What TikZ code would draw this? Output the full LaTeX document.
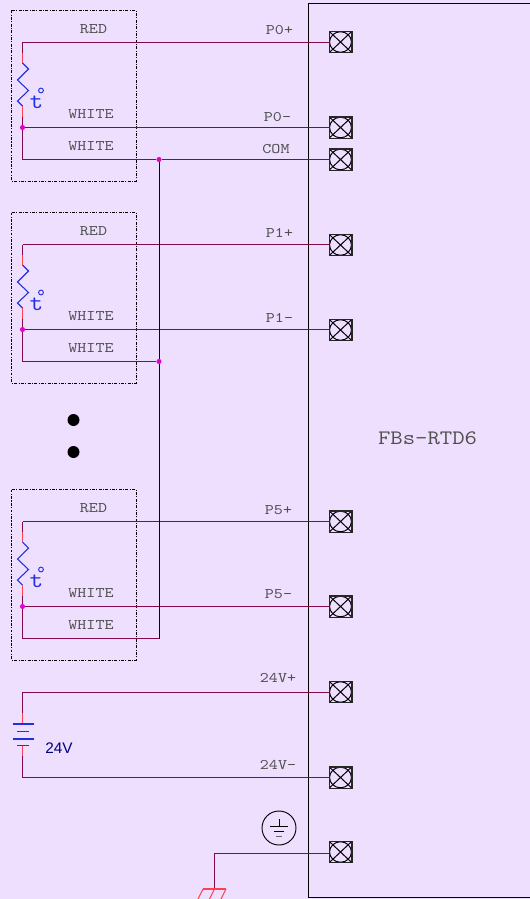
\documentclass[tikz,border=0pt]{standalone}
\usepackage{fontspec}
\setmainfont{Liberation Sans}
\newfontfamily\monof[FakeStretch=1.17]{Latin Modern Mono}
\definecolor{bg}{HTML}{EEDFFF}
\definecolor{wire}{HTML}{800A4A}
\definecolor{redw}{HTML}{FF4050}
\definecolor{bluew}{HTML}{2030E0}
\definecolor{junc}{HTML}{E000D0}
\definecolor{txt}{HTML}{505050}
\tikzset{
 wirel/.style={draw=wire,line width=0.75pt},
 redl/.style={draw=redw,line width=0.8pt},
 bluel/.style={draw=bluew,line width=0.8pt},
 plate/.style={draw=bluew,line width=0.8pt},
 sensorbox/.style={draw=black,line width=0.6pt,dash pattern=on 2.2pt off 1pt on 0.8pt off 1pt},
 lab/.style={inner sep=0pt,text=txt,font=\monof\fontsize{11pt}{11pt}\selectfont},
 term/.style={draw=black!85,line width=1pt,minimum width=17pt,minimum height=16pt,inner sep=0pt,
  path picture={\draw[black,line width=0.75pt] (path picture bounding box.south west)--(path picture bounding box.north east)
   (path picture bounding box.north west)--(path picture bounding box.south east);
   \draw[black,line width=0.75pt] (path picture bounding box.center) ellipse (8.2pt and 7.7pt);}},
 jdot/.style={circle,fill=junc,inner sep=0pt,minimum size=3.8pt},
}
\begin{document}
\begin{tikzpicture}[x=0.75pt,y=-0.75pt]
\useasboundingbox (0,0) rectangle (530,899);
\fill[bg] (0,0) rectangle (530,899);
% module
\draw[black,line width=0.75pt] (530,4) -- (308.5,4) -- (308.5,897) -- (530,897);
\node[inner sep=0pt,text=txt,font=\monof\fontsize{15.4pt}{15.4pt}\selectfont] (name) at (427.5,438) {FBs-RTD6};
% terminals
\foreach \n/\y in {t0/42,t1/127.5,tc/159.5,t2/245,t3/330,t4/521.5,t5/606.5,t6/692,t7/777.5,t8/852}
 \node[term] (\n) at (340.5,\y) {};
% sensor boxes and their contents
\foreach \s/\o/\a/\b in {A/0/t0/t1,B/202/t2/t3,C/479/t4/t5}{
 \begin{scope}[shift={(0,\o)}]
 \draw[sensorbox] (11.5,10.5) rectangle (136,181);
 \coordinate (\s r) at (22.5,42.5);
 \coordinate (\s r1) at (22.5,53);
 \coordinate (\s r2) at (22.5,63);
 \coordinate (\s w0) at (22.5,106);
 \coordinate (\s w1) at (22.5,117);
 \node[jdot] (\s j) at (22.5,127.5) {};
 \coordinate (\s c) at (22.5,159.5);
 \draw[wirel] (\s r1) -- (\s r);
 \draw[redl] (\s r1) -- (\s r2);
 \draw[bluel,line join=miter] (\s r2) -- ++(6,6) -- ++(-11,11) -- ++(11,10.5) -- ++(-11,10.5) -- (\s w0);
 \draw[redl] (\s w0) -- (\s w1);
 \draw[wirel] (\s w1) -- (\s j) -- (\s c);
 \node[inner sep=0pt,text=bluew,font=\monof\fontsize{17pt}{17pt}\selectfont] (\s t) at (36.5,102) {t};
 \draw[bluew,line width=0.7pt] (41,90.5) circle (2.4);
 \node[lab] (\s lr) at (93.5,29) {RED};
 \node[lab] (\s lw) at (91,114) {WHITE};
 \node[lab] (\s lx) at (91,146) {WHITE};
 \end{scope}
 \draw[wirel] (\s r) -- (\s r -| \a.west);
 \draw[wirel] (\s j) -- (\s j -| \b.west);
}
% common bus
\node[jdot] (j0) at (159,159.5) {};
\node[jdot] (j1) at (159,361.5) {};
\coordinate (j2) at (159,638.5);
\draw[wirel] (Ac) -- (j0) -- (tc);
\draw[wirel] (Bc) -- (j1);
\draw[wirel] (Cc) -- (j2);
\draw[line width=0.75pt,draw=black!85!wire] (j0) -- (j1) -- (j2);
% terminal labels
\node[lab] (p0p) at (279.5,30.5) {P0+};
\node[lab] (p0m) at (277.5,117) {P0-};
\node[lab] (com) at (276,149.5) {COM};
\node[lab] (p1p) at (279.5,232.5) {P1+};
\node[lab] (p1m) at (279.5,318) {P1-};
\node[lab] (p5p) at (278.5,510.5) {P5+};
\node[lab] (p5m) at (278.5,594) {P5-};
\node[lab] (vp) at (278,677.5) {24V+};
\node[lab] (vm) at (278,765) {24V-};
% continuation dots
\fill[black] (73.5,420) circle (6);
\fill[black] (73.5,452) circle (6);
% battery
\coordinate (b0) at (22.5,692.5);
\coordinate (b1) at (22.5,713);
\coordinate (b2) at (22.5,724);
\coordinate (b3) at (22.5,745.5);
\coordinate (b4) at (22.5,756);
\coordinate (b5) at (22.5,777.5);
\draw[wirel] (b0 -| t6.west) -- (b0) -- (b1);
\draw[redl] (b1) -- (b2);
\draw[plate] (12.5,724) -- (33.5,724);
\draw[plate] (17,731.5) -- (29,731.5);
\draw[plate] (12.5,739) -- (33.5,739);
\draw[plate] (17,745.5) -- (29,745.5);
\draw[redl] (b3) -- (b4);
\draw[wirel] (b4) -- (b5) -- (t7);
\node[inner sep=0pt,text=blue!50!black,font=\fontsize{11.5pt}{11.5pt}\selectfont] (bv) at (59,748) {24V};
% earth symbol
\node[draw=black,line width=0.7pt,circle,minimum size=25.5pt,inner sep=0pt] (gnd) at (279,828) {};
\draw[black,line width=0.7pt] (279,819) -- (279,826);
\draw[black,line width=0.7pt] (270,826) -- (288,826);
\draw[black,line width=0.7pt] (274,831) -- (284,831);
\draw[black!60,line width=0.9pt] (276,836.5) -- (282,836.5);
% earth wire
\coordinate (e0) at (214.5,853.5);
\coordinate (e1) at (214.5,889);
\draw[wirel] (t8.west |- e0) -- (e0) -- (e1);
\draw[redl] (203,889) -- (226,889);
\draw[redl] (203,889) -- (198,899);
\draw[redl] (e1) -- (209.5,899);
\draw[redl] (226,889) -- (221,899);
\end{tikzpicture}
\end{document}
